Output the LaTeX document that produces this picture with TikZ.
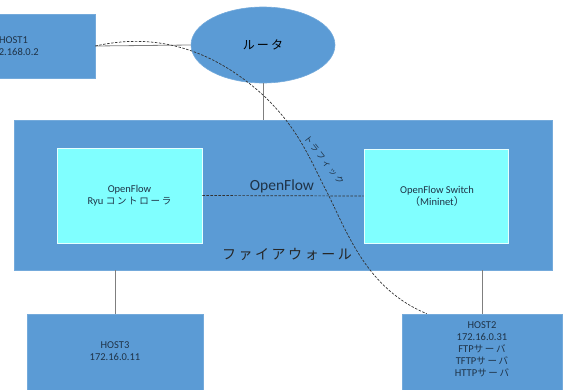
\documentclass[tikz,border=0pt]{standalone}
\usepackage{fontspec}
\setmainfont{Carlito}
\newfontfamily\jp{Noto Sans CJK JP}
\newfontfamily\jpsp[LetterSpace=18]{Noto Sans CJK JP}
\usetikzlibrary{shapes.geometric}
\definecolor{boxblue}{HTML}{5B9BD5}
\definecolor{boxcyan}{HTML}{80FFFF}
\definecolor{txt}{HTML}{1F3347}
\definecolor{wire}{HTML}{7F7F7F}
\begin{document}
\begin{tikzpicture}[x=1pt,y=-1pt,
  bluebox/.style={rectangle, fill=boxblue, draw=boxblue!85!white, line width=0.6pt, inner sep=0pt},
  cyanbox/.style={rectangle, fill=boxcyan, draw=white!80!boxcyan, line width=0.8pt, inner sep=0pt},
  txtlabel/.style={align=center, text=txt, font=\fontsize{10.5}{12}\selectfont, inner sep=0pt},
  wireline/.style={draw=wire, line width=0.8pt},
  traffic/.style={draw=black!80, dashed, dash pattern=on 2.5pt off 1.5pt, line width=0.7pt}]
\useasboundingbox (0,0) rectangle (566,389);
\clip (0,0) rectangle (566,389);
% boxes
\node[bluebox, minimum width=158pt, minimum height=64pt] (host1) at (16,46) {};
\node[txtlabel] (host1t) at (13.5,46) {HOST1\\192.168.0.2};
\node[ellipse, fill=boxblue, draw=boxblue!85!white, line width=0.6pt, minimum width=144pt, minimum height=76pt, inner sep=0pt] (router) at (263,45) {};
\node[text=black, font=\jpsp\fontsize{12}{14}\selectfont] (routert) at (263,45) {ルータ};
\node[bluebox, minimum width=538pt, minimum height=150pt] (fw) at (283,195) {};
\node[cyanbox, minimum width=145pt, minimum height=95pt] (ctrl) at (129.5,195.5) {};
\node[txtlabel] (ctrlt) at (129.5,196) {OpenFlow\\Ryu {\jpsp\fontsize{9.5}{12}\selectfont コントローラ}};
\node[cyanbox, minimum width=144pt, minimum height=94pt] (sw) at (436,196) {};
\node[txtlabel] (swt) at (437,196) {OpenFlow Switch\\{\jp （}Mininet{\jp ）}};
\node[bluebox, minimum width=176pt, minimum height=80pt] (host3) at (115,354) {};
\node[txtlabel] (host3t) at (115,351) {HOST3\\172.16.0.11};
\node[bluebox, minimum width=160pt, minimum height=80pt] (host2) at (482,354) {};
\node[txtlabel] (host2t) at (482,349) {HOST2\\172.16.0.31\\FTP{\jpsp\fontsize{9.5}{12}\selectfont サーバ}\\TFTP{\jpsp\fontsize{9.5}{12}\selectfont サーバ}\\HTTP{\jpsp\fontsize{9.5}{12}\selectfont サーバ}};
\node[text=txt, font=\fontsize{15.5}{17}\selectfont, inner sep=0pt] (oflabel) at (282,186) {OpenFlow};
\node[text=black!85, font=\jpsp\fontsize{14}{16}\selectfont, inner sep=0pt] (fwlabel) at (287,254) {ファイアウォール};
% connectors
\draw[wireline] (host1.east) -- (router.west);
\draw[wireline] (router.south) -- (router.south |- fw.north);
\draw[wireline] (host3.north |- fw.south) -- (host3.north);
\draw[wireline] (host2.north |- fw.south) -- (host2.north);
\draw[traffic] (ctrl.east) -- (sw.west);
% traffic
\coordinate (tend) at ([xshift=25pt]host2.north west);
\draw[traffic] (host1.east) .. controls (140,36) and (200,38) .. (263,95)
  .. controls (300,130) and (310,160) .. (329,196)
  .. controls (350,240) and (370,290) .. (tend);
\node[rotate=-52, text=txt, font=\jpsp\fontsize{8.5}{10}\selectfont, inner sep=0pt] (trafl) at (324,160) {トラフィック};
\end{tikzpicture}
\end{document}
